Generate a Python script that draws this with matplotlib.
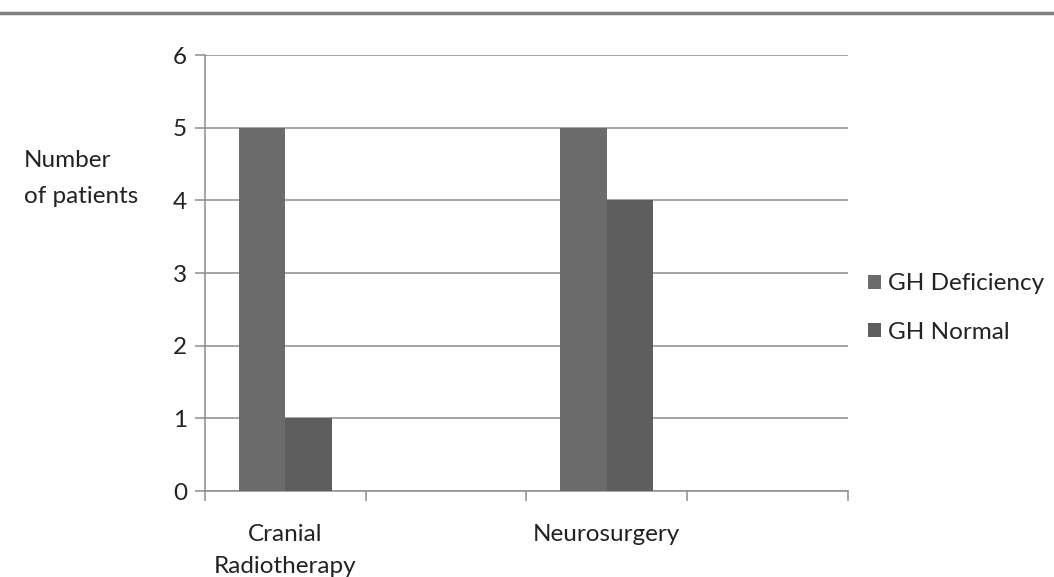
import matplotlib.pyplot as plt
import numpy as np

plt.rcParams['font.family'] = ['Lato', 'DejaVu Sans']

# data
categories = ["Cranial\nRadiotherapy", "", "Neurosurgery", ""]
gh_deficiency = [5, 0, 5, 0]
gh_normal = [1, 0, 4, 0]
y_ticks = [0, 1, 2, 3, 4, 5, 6]

fs = 17.5
txt = '#222222'

fig = plt.figure(figsize=(10.54, 5.77), dpi=100)
fig.patch.set_facecolor('white')

# heavy rule across the top
fig.add_artist(plt.Line2D([0, 1], [0.977, 0.977], transform=fig.transFigure,
                          color='#7f7f7f', linewidth=2.5))

ax = fig.add_axes([0.1945, 0.149, 0.610, 0.7556])
x = np.arange(len(categories))
w = 0.29
ax.bar(x - w / 2, gh_deficiency, w, color='#6b6b6b', label='GH Deficiency', zorder=3)
ax.bar(x + w / 2, gh_normal, w, color='#5e5e5e', label='GH Normal', zorder=3)

ax.set_xlim(-0.5, len(categories) - 0.5)
ax.set_ylim(0, 6)
ax.set_yticks(y_ticks)
ax.set_yticklabels([str(v) for v in y_ticks], fontsize=fs, color=txt)
ax.yaxis.grid(True, color='#8c8c8c', linewidth=1.1, zorder=0)

# boundary ticks between categories, labels centred under each category
ax.set_xticks(np.arange(len(categories) + 1) - 0.5)
ax.set_xticklabels([])
ax.set_xticks(x, minor=True)
ax.set_xticklabels(categories, minor=True, fontsize=fs, color=txt,
                   linespacing=1.6, va='top')
ax.tick_params(axis='x', which='minor', length=0, pad=24)
ax.tick_params(axis='x', which='major', length=7, color='#8c8c8c', width=1.1)
ax.tick_params(axis='y', length=7, color='#8c8c8c', width=1.1, pad=6)

for s in ['top', 'right']:
    ax.spines[s].set_visible(False)
for s in ['left', 'bottom']:
    ax.spines[s].set_color('#8c8c8c')
    ax.spines[s].set_linewidth(1.1)

fig.text(0.023, 0.691, "Number\nof patients", fontsize=fs, color=txt,
         ha='left', va='center', linespacing=1.9)

fig.legend(loc='center left', bbox_to_anchor=(0.8235, 0.466), frameon=False,
           borderpad=0, borderaxespad=0,
           fontsize=fs, handlelength=0.53, handleheight=0.53, handletextpad=0.3,
           labelspacing=1.13, labelcolor=txt)

fig.savefig('out.png', dpi=100, facecolor='white')
